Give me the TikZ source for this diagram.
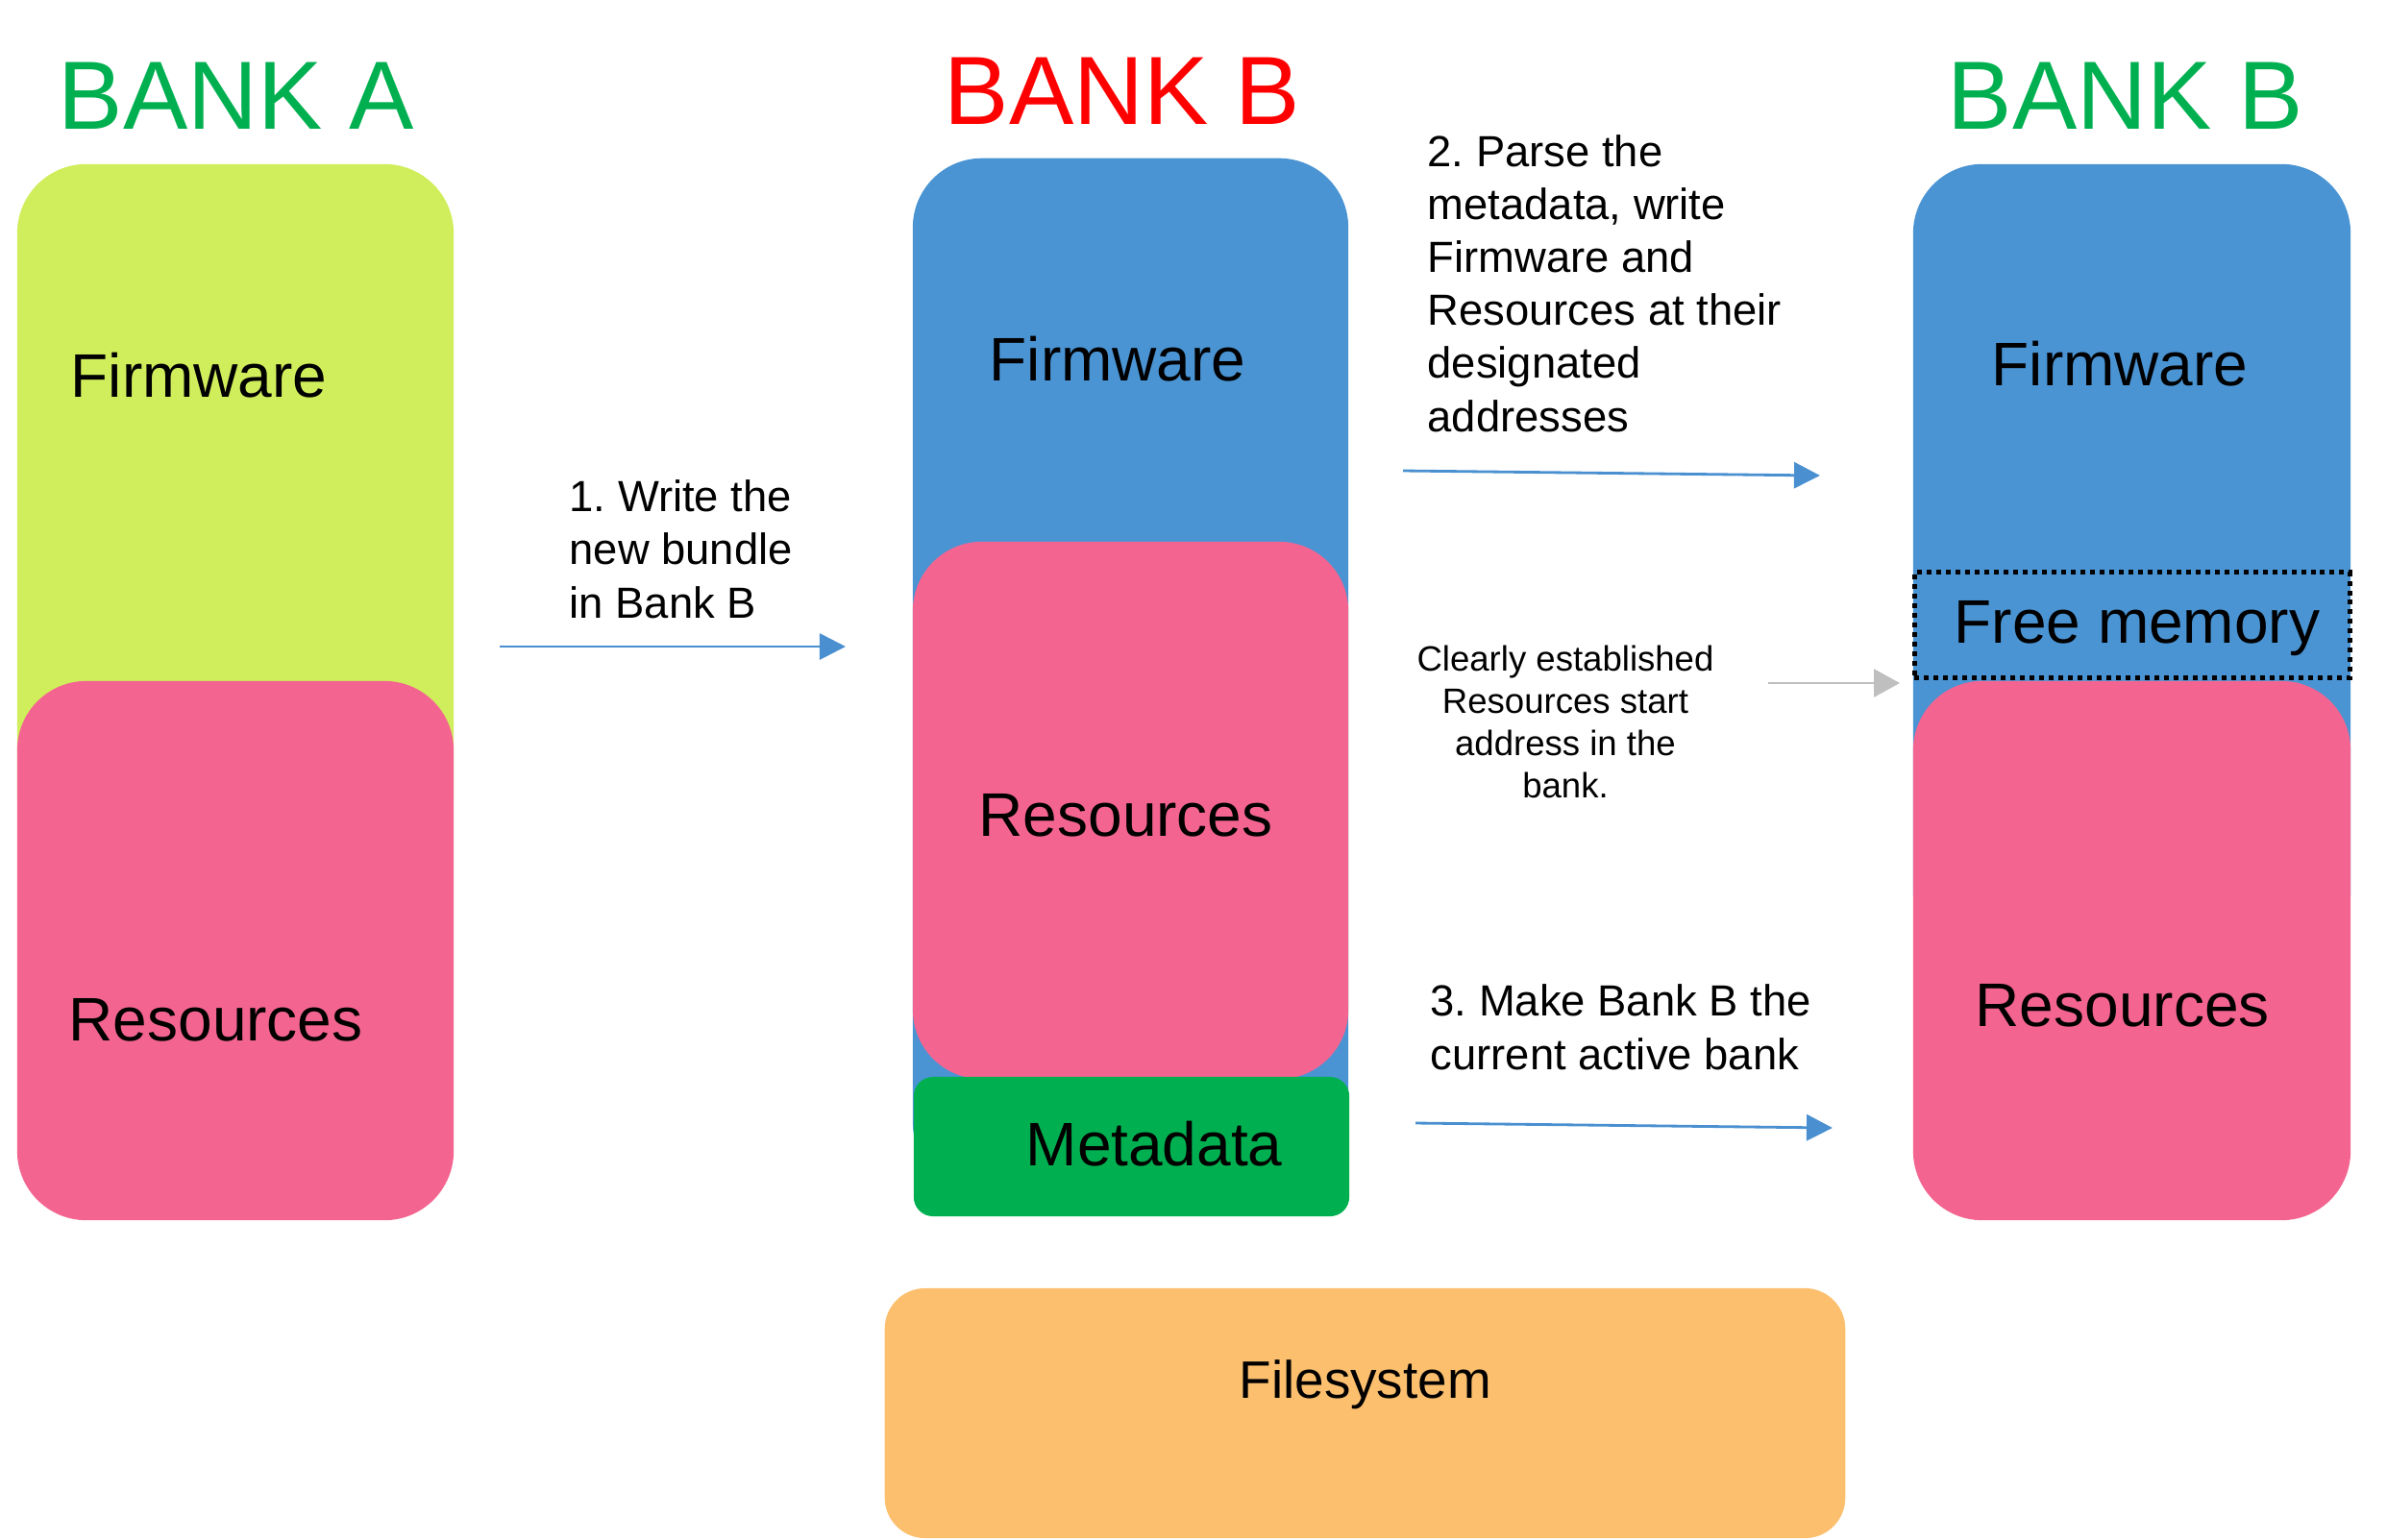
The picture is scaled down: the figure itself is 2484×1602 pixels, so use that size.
\documentclass[tikz,border=0pt]{standalone}
\usepackage{fontspec}
\setmainfont{Liberation Sans}
\usetikzlibrary{arrows.meta}
\frenchspacing
\definecolor{cLime}{HTML}{D0EE5C}
\definecolor{cPink}{HTML}{F36590}
\definecolor{cBlue}{HTML}{4A94D3}
\definecolor{cMeta}{HTML}{00B050}
\definecolor{cFile}{HTML}{FCBF6E}
\definecolor{cTitleGreen}{HTML}{00B050}
\definecolor{cTitleRed}{HTML}{FF0000}
\definecolor{cArrow}{HTML}{4A90D0}
\definecolor{cGray}{HTML}{BFBFBF}
\tikzset{
  membox/.style={rounded corners=0.72cm, minimum width=4.54cm, inner sep=0pt, draw=none},
  lbl/.style={anchor=base west, inner sep=0pt, font=\fontsize{18.2}{21}\selectfont},
  banktitle/.style={anchor=base west, inner sep=0pt, font=\fontsize{28.7}{34}\selectfont},
  steptext/.style={anchor=base west, inner sep=0pt, align=left, font=\fontsize{12.9}{15.65}\selectfont},
  flow/.style={-{Triangle[length=0.27cm,width=0.27cm]}, line width=0.8pt, draw=cArrow},
  grayflow/.style={-{Triangle[length=0.27cm,width=0.29cm]}, line width=0.8pt, draw=cGray},
}
\begin{document}
\begin{tikzpicture}[x=0.01cm, y=-0.01cm]
\useasboundingbox (0,0) rectangle (2484,1602);
% Bank A
\node[membox, fill=cLime, minimum height=7.29cm] (aFw) at (245,535.5) {};
\node[membox, fill=cPink, minimum height=5.61cm] (aRes) at (245,989.5) {};
% Bank B (middle)
\node[membox, fill=cBlue, minimum width=4.53cm, minimum height=10.75cm] (bFw) at (1176.5,702.5) {};
\node[membox, fill=cPink, minimum width=4.53cm, minimum height=5.59cm] (bRes) at (1176.5,843.5) {};
\node[membox, rounded corners=0.2cm, fill=cMeta, minimum width=4.53cm, minimum height=1.45cm] (bMeta) at (1177.5,1193.5) {};
% Bank B (right)
\node[membox, fill=cBlue, minimum width=4.55cm, minimum height=8.29cm] (cFw) at (2218.5,585.5) {};
\node[membox, fill=cPink, minimum width=4.55cm, minimum height=5.61cm] (cRes) at (2218.5,989.5) {};
\node[draw=black, line width=1.42pt, dash pattern=on 1.42pt off 1.42pt, minimum width=4.535cm, minimum height=1.09cm, inner sep=0pt] (cFree) at (2219,650.5) {};
% Filesystem
\node[membox, rounded corners=0.42cm, fill=cFile, minimum width=9.99cm, minimum height=2.6cm] (fs) at (1420.5,1471) {};

% Titles
\node[banktitle, text=cTitleGreen] (tA) at (60,134) {BANK A};
\node[banktitle, text=cTitleRed] (tB) at (982,129) {BANK B};
\node[banktitle, text=cTitleGreen] (tC) at (2026,134) {BANK B};

% Labels
\node[lbl] (lAFw) at (73,413) {Firmware};
\node[lbl] (lARes) at (71,1083) {Resources};
\node[lbl] (lBFw) at (1029,396) {Firmware};
\node[lbl] (lBRes) at (1018,870) {Resources};
\node[lbl] (lBMeta) at (1067,1213) {Metadata};
\node[lbl] (lCFw) at (2072,401) {Firmware};
\node[lbl] (lCFree) at (2033,669) {Free memory};
\node[lbl] (lCRes) at (2055,1068) {Resources};
\node[anchor=base west, inner sep=0pt, font=\fontsize{15.6}{18}\selectfont] (lFs) at (1289,1455) {Filesystem};

% Step texts (base anchor = baseline of the last line)
\node[steptext] (s1) at (592,643) {1. Write the\\new bundle\\in Bank B};
\node[steptext] (s2) at (1485,449) {2. Parse the\\metadata, write\\Firmware and\\Resources at their\\designated\\addresses};
\node[steptext] (s3) at (1488,1113) {3. Make Bank B the\\current active bank};
\node[anchor=base, inner sep=0pt, align=center, font=\fontsize{10.4}{12.5}\selectfont] (s4) at (1629,830) {Clearly established\\Resources start\\address in the\\bank.};

% Arrows
\coordinate (a1s) at (520,673);
\coordinate (a1e) at (880,673);
\coordinate (a2s) at (1460,490);
\coordinate (a2e) at (1894,495);
\coordinate (ags) at (1840,711);
\coordinate (age) at (1977,711);
\coordinate (a3s) at (1473,1169);
\coordinate (a3e) at (1907,1174);
\draw[flow] (a1s) -- (a1e);
\draw[flow] (a2s) -- (a2e);
\draw[grayflow] (ags) -- (age);
\draw[flow] (a3s) -- (a3e);
\end{tikzpicture}
\end{document}
